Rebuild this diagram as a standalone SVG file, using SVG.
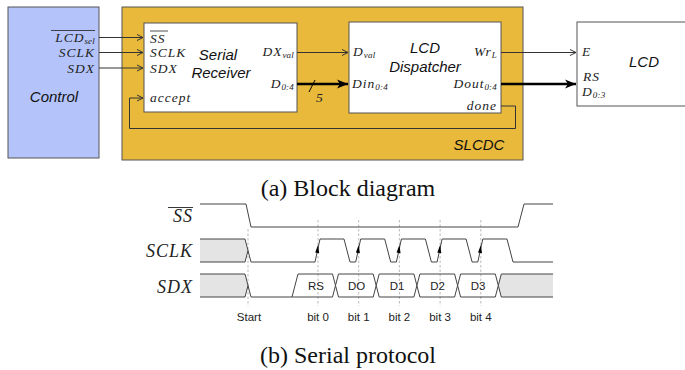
<svg xmlns="http://www.w3.org/2000/svg" width="685" height="370" viewBox="0 0 685 370">
<style>
.box{stroke:#555;stroke-width:1}
.m{font-family:"Liberation Serif","DejaVu Serif",serif;font-style:italic;font-size:13.5px;letter-spacing:1px;fill:#222}
.ms{font-size:9px;letter-spacing:0.2px}
.t{font-family:"Liberation Sans",Arial,sans-serif;font-style:italic;font-size:15px;fill:#111}
.w{fill:none;stroke:#333;stroke-width:1}
.thick{fill:none;stroke:#000;stroke-width:2.6}
.sig{fill:none;stroke:#444;stroke-width:1}
.gray{fill:#e4e4e4;stroke:none}
.dash{stroke:#aaa;stroke-width:0.8;stroke-dasharray:2.5,2}
.lab{font-family:"Liberation Sans",Arial,sans-serif;font-size:11.5px;fill:#222;text-anchor:middle}
.cap{font-family:"Liberation Serif","Times New Roman",serif;font-size:24px;fill:#111;text-anchor:middle}
.tm{font-family:"Liberation Serif","DejaVu Serif",serif;font-style:italic;font-size:18px;letter-spacing:1px;fill:#222;text-anchor:end}
</style>
<defs>
<marker id="chev" markerWidth="8" markerHeight="8" refX="7" refY="4" orient="auto" markerUnits="userSpaceOnUse">
<path d="M1,1 L7,4 L1,7" fill="none" stroke="#333" stroke-width="1"/>
</marker>
<marker id="tri" markerWidth="12" markerHeight="10" refX="11" refY="5" orient="auto" markerUnits="userSpaceOnUse">
<path d="M0,0.5 L11,5 L0,9.5 L3,5 Z" fill="#000"/>
</marker>
</defs>

<g id="control">
<rect class="box" x="8" y="7" width="91" height="151" fill="#b4c4fb"/>
<text class="m" x="95" y="42" text-anchor="end">LCD<tspan class="ms" dy="2">sel</tspan></text>
<line x1="51" y1="30.5" x2="95" y2="30.5" stroke="#222" stroke-width="0.8"/>
<text class="m" x="95" y="57" text-anchor="end">SCLK</text>
<text class="m" x="95" y="73" text-anchor="end">SDX</text>
<text class="t" x="54" y="102" text-anchor="middle">Control</text>
</g>

<g id="slcdc">
<rect class="box" x="122" y="7" width="401" height="153" fill="#e8b93b"/>
<text class="t" x="479" y="150" text-anchor="middle">SLCDC</text>
</g>

<g id="serial-receiver">
<rect class="box" x="144" y="23" width="153" height="89" fill="#fff"/>
<text class="m" x="150" y="42.5">SS</text>
<line x1="150" y1="31" x2="168" y2="31" stroke="#222" stroke-width="0.8"/>
<text class="m" x="150" y="57">SCLK</text>
<text class="m" x="150" y="72.5">SDX</text>
<text class="m" x="150" y="102">accept</text>
<text class="t" x="218" y="60" text-anchor="middle">Serial</text>
<text class="t" x="221" y="78" text-anchor="middle">Receiver</text>
<text class="m" x="294" y="56" text-anchor="end">DX<tspan class="ms" dy="2">val</tspan></text>
<text class="m" x="294" y="88" text-anchor="end">D<tspan class="ms" dy="2">0:4</tspan></text>
</g>

<g id="lcd-dispatcher">
<rect class="box" x="349" y="22" width="152" height="91" fill="#fff"/>
<text class="m" x="353" y="56">D<tspan class="ms" dy="2">val</tspan></text>
<text class="m" x="352" y="88">Din<tspan class="ms" dy="2">0:4</tspan></text>
<text class="t" x="425" y="53" text-anchor="middle">LCD</text>
<text class="t" x="425" y="72" text-anchor="middle">Dispatcher</text>
<text class="m" x="497" y="56" text-anchor="end">Wr<tspan class="ms" dy="2">L</tspan></text>
<text class="m" x="497" y="88" text-anchor="end">Dout<tspan class="ms" dy="2">0:4</tspan></text>
<text class="m" x="497" y="110" text-anchor="end">done</text>
</g>

<g id="lcd">
<rect class="box" x="577" y="22" width="120" height="84" fill="#fff"/>
<text class="m" x="582" y="56">E</text>
<text class="m" x="583" y="81">RS</text>
<text class="m" x="582" y="96">D<tspan class="ms" dy="2">0:3</tspan></text>
<text class="t" x="644" y="67" text-anchor="middle">LCD</text>
</g>

<g id="connectors">
<line class="w" x1="99" y1="37.5" x2="143" y2="37.5" marker-end="url(#chev)"/>
<line class="w" x1="99" y1="52.5" x2="143" y2="52.5" marker-end="url(#chev)"/>
<line class="w" x1="99" y1="68" x2="143" y2="68" marker-end="url(#chev)"/>
<path class="w" d="M501,106 H515.5 V128.5 H129.5 V98 H143" marker-end="url(#chev)"/>
<line class="w" x1="297" y1="52.5" x2="348" y2="52.5" marker-end="url(#chev)"/>
<line class="thick" x1="297" y1="84" x2="348" y2="84" marker-end="url(#tri)"/>
<line x1="309" y1="92" x2="315" y2="80" stroke="#000" stroke-width="1"/>
<text class="m" x="316" y="102">5</text>
<line class="w" x1="501" y1="52.5" x2="576" y2="52.5" marker-end="url(#chev)"/>
<line class="thick" x1="501" y1="84" x2="576" y2="84" marker-end="url(#tri)"/>
</g>

<text class="cap" x="348" y="196">(a) Block diagram</text>

<g id="timing">
<line class="dash" x1="248" y1="229" x2="248" y2="306"/>
<line class="dash" x1="318" y1="220" x2="318" y2="306"/>
<line class="dash" x1="358.7" y1="220" x2="358.7" y2="306"/>
<line class="dash" x1="399.4" y1="220" x2="399.4" y2="306"/>
<line class="dash" x1="440.1" y1="220" x2="440.1" y2="306"/>
<line class="dash" x1="480.8" y1="220" x2="480.8" y2="306"/>

<text class="tm" x="193" y="222">SS</text>
<line x1="168" y1="207.5" x2="193" y2="207.5" stroke="#222" stroke-width="0.9"/>
<text class="tm" x="193" y="257">SCLK</text>
<text class="tm" x="193" y="293">SDX</text>

<polyline class="sig" points="200,204 246,204 251,227 518,227 524,204 553,204"/>

<polygon class="gray" points="200,239 245,239 248,250.5 245,262 200,262"/>
<polyline class="sig" points="200,239 245,239 251,262 315,262 320,239 344,239 350,262 355.7,262 360.7,239 384.7,239 390.7,262 396.4,262 401.4,239 425.4,239 431.4,262 437.1,262 442.1,239 466.1,239 472.1,262 477.8,262 482.8,239 507,239 513,262 553,262"/>
<polyline class="sig" points="200,262 245,262 248,250.5"/>
<g fill="#000">
<polygon points="318,245 315.2,252.5 319.2,253.2"/>
<polygon points="358.7,245 355.9,252.5 359.9,253.2"/>
<polygon points="399.4,245 396.6,252.5 400.6,253.2"/>
<polygon points="440.1,245 437.3,252.5 441.3,253.2"/>
<polygon points="480.8,245 478,252.5 482,253.2"/>
</g>

<polygon class="gray" points="200,274 245,274 248,285.5 245,297 200,297"/>
<polyline class="sig" points="200,274 245,274 251,297 292,297"/>
<polyline class="sig" points="200,297 245,297 248,285.5"/>
<polygon class="sig" points="292,297 298,274 332.5,274 335.5,285.5 332.5,297"/>
<polygon class="sig" points="335.5,285.5 338.5,274 373.2,274 376.2,285.5 373.2,297 338.5,297"/>
<polygon class="sig" points="376.2,285.5 379.2,274 413.9,274 416.9,285.5 413.9,297 379.2,297"/>
<polygon class="sig" points="416.9,285.5 419.9,274 454.6,274 457.6,285.5 454.6,297 419.9,297"/>
<polygon class="sig" points="457.6,285.5 460.6,274 495.3,274 498.3,285.5 495.3,297 460.6,297"/>
<polygon class="gray" points="498.3,285.5 501.3,274 553,274 553,297 501.3,297"/>
<polyline class="sig" points="553,274 501.3,274 498.3,285.5 501.3,297 553,297"/>

<text class="lab" x="316" y="290">RS</text>
<text class="lab" x="356.5" y="290">DO</text>
<text class="lab" x="397" y="290">D1</text>
<text class="lab" x="437.5" y="290">D2</text>
<text class="lab" x="478" y="290">D3</text>

<text class="lab" x="249" y="321">Start</text>
<text class="lab" x="318" y="321">bit 0</text>
<text class="lab" x="358.7" y="321">bit 1</text>
<text class="lab" x="399.4" y="321">bit 2</text>
<text class="lab" x="440.1" y="321">bit 3</text>
<text class="lab" x="480.8" y="321">bit 4</text>
</g>

<text class="cap" x="348" y="363">(b) Serial protocol</text>
</svg>
